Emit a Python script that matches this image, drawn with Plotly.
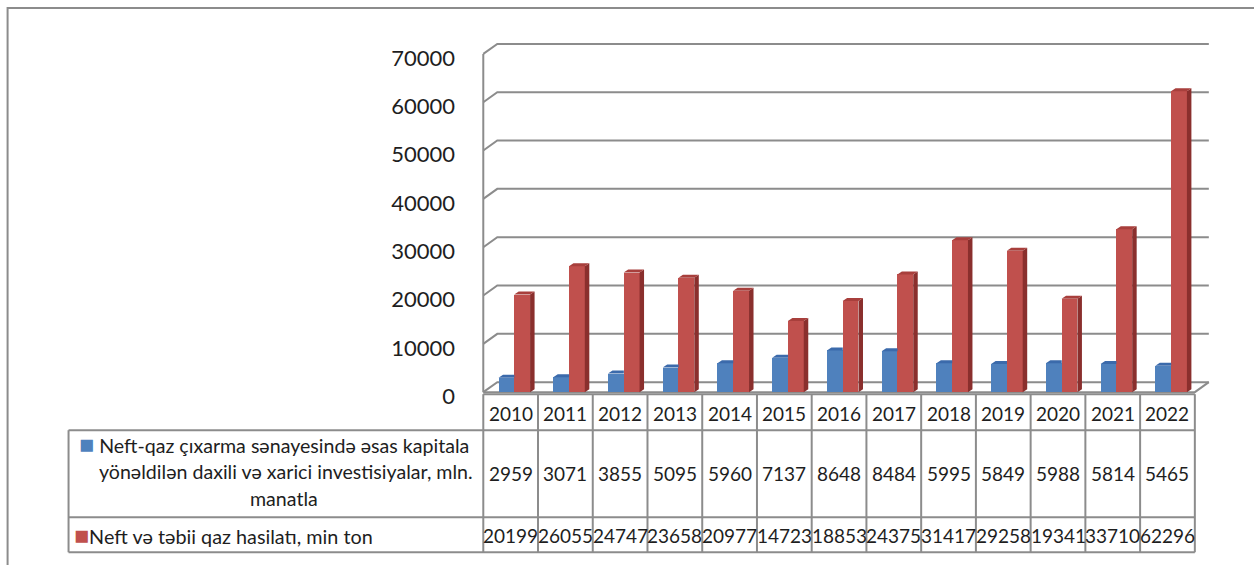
import plotly.graph_objects as go

# ---------------- data ----------------
years = ["2010", "2011", "2012", "2013", "2014", "2015", "2016",
         "2017", "2018", "2019", "2020", "2021", "2022"]
investment = [2959, 3071, 3855, 5095, 5960, 7137, 8648, 8484, 5995, 5849, 5988, 5814, 5465]
production = [20199, 26055, 24747, 23658, 20977, 14723, 18853, 24375, 31417, 29258, 19341, 33710, 62296]
series_names = [
    "Neft-qaz çıxarma sənayesində əsas kapitala",
    "yönəldilən daxili və xarici investisiyalar, mln.",
    "manatla",
]
series2_name = "Neft və təbii qaz hasilatı, min ton"
y_ticks = [0, 10000, 20000, 30000, 40000, 50000, 60000, 70000]

# ---------------- geometry / style ----------------
W_FIG, H_FIG = 1254, 565
X0, CW = 483.0, 54.77          # px of left edge of first category, px per category
Y0, K = 392.0, 0.004829        # px of value 0, px per unit
XR = [-0.56, 12.85]
YR = [-1000, 73500]

def xpx(u):
    return X0 + (u + 0.5) * CW

def ypx(v):
    return Y0 - v * K

L = xpx(XR[0]); R = xpx(XR[1])
T = ypx(YR[1]); B = ypx(YR[0])
PW, PH = R - L, B - T

def xp(px):
    return (px - L) / PW

def yp(px):
    return (B - px) / PH

BLUE, BLUE_TOP = "#4f81bd", "#3b6aab"
RED, RED_TOP, RED_SIDE = "#c0504d", "#a83f3c", "#8a2f2d"
GRID = "#8c8c8c"
TXT = "#1e1e1e"
FONT = "Lato"

n = len(years)
xs = list(range(n))
BW = 0.29
OFF_B, OFF_R = -0.077, 0.21
BDX = 4.5 / CW
BDY = 3.0 / K
WDX = 14.0 / CW
WDY = 10.0 / K

fig = go.Figure()

# front faces
fig.add_trace(go.Bar(x=[i + OFF_B for i in xs], y=investment, width=BW,
                     marker=dict(color=BLUE, line=dict(width=0)), name=series_names[0]))
fig.add_trace(go.Bar(x=[i + OFF_R for i in xs], y=production, width=BW,
                     marker=dict(color=RED, line=dict(width=0)), name=series2_name))

# 3D faces
def poly_trace(polys, color):
    px_, py_ = [], []
    for p in polys:
        for (a, b) in p:
            px_.append(a); py_.append(b)
        px_.append(p[0][0]); py_.append(p[0][1])
        px_.append(None); py_.append(None)
    return go.Scatter(x=px_, y=py_, fill="toself", fillcolor=color, mode="lines",
                      line=dict(width=0, color=color), hoverinfo="skip", showlegend=False)

blue_tops = []
for i, v in zip(xs, investment):
    xl = i + OFF_B - BW / 2; xr = i + OFF_B + BW / 2
    blue_tops.append([(xl, v), (xr, v), (xr, v + BDY), (xl + BDX, v + BDY)])
red_tops, red_sides = [], []
for i, v in zip(xs, production):
    xl = i + OFF_R - BW / 2; xr = i + OFF_R + BW / 2
    red_tops.append([(xl, v), (xr, v), (xr + BDX, v + BDY), (xl + BDX, v + BDY)])
    red_sides.append([(xr, 0), (xr + BDX, BDY), (xr + BDX, v + BDY), (xr, v)])
fig.add_trace(poly_trace(blue_tops, BLUE_TOP))
fig.add_trace(poly_trace(red_sides, RED_SIDE))
fig.add_trace(poly_trace(red_tops, RED_TOP))

shapes = []
# back-wall gridlines with slanted side-wall segments
for v in y_ticks:
    shapes.append(dict(type="path", xref="x", yref="y", layer="below",
                       path=f"M{-0.5},{v} L{-0.5 + WDX},{v + WDY} L{12.5 + WDX},{v + WDY}",
                       line=dict(color=GRID, width=2)))
# left wall front edge
shapes.append(dict(type="line", xref="x", yref="y", layer="below",
                   x0=-0.5, y0=0, x1=-0.5, y1=y_ticks[-1], line=dict(color=GRID, width=2)))
# floor front edge + right slant
shapes.append(dict(type="path", xref="x", yref="y", layer="below",
                   path=f"M{-0.5},0 L{12.5},0 L{12.5 + WDX},{WDY}",
                   line=dict(color=GRID, width=2)))

# ---------------- data table ----------------
col_edges = [xpx(j - 0.5) for j in range(n + 1)]
T_TOP, T_H1, T_R1, T_R2 = 394.0, 430.0, 517.0, 552.0
LEG_L = 68.0

def pline(x0, y0, x1, y1):
    shapes.append(dict(type="line", xref="paper", yref="paper",
                       x0=xp(x0), y0=yp(y0), x1=xp(x1), y1=yp(y1),
                       line=dict(color=GRID, width=2)))

pline(col_edges[0], T_TOP, col_edges[-1], T_TOP)
for yy in (T_H1, T_R1, T_R2):
    pline(LEG_L, yy, col_edges[-1], yy)
pline(LEG_L, T_H1, LEG_L, T_R2)
for xe in col_edges:
    pline(xe, T_TOP, xe, T_R2)

# outer frame
shapes.append(dict(type="rect", xref="paper", yref="paper",
                   x0=xp(7), y0=yp(8), x1=xp(1262), y1=yp(575),
                   line=dict(color=GRID, width=2)))

ann = []
def txt(x, y, s, size=19, xanchor="center"):
    ann.append(dict(xref="paper", yref="paper", x=xp(x), y=yp(y), text=s,
                    showarrow=False, xanchor=xanchor, yanchor="middle",
                    font=dict(family=FONT, size=size, color=TXT)))

for j in range(n):
    cx = (col_edges[j] + col_edges[j + 1]) / 2
    txt(cx, 413, years[j])
    txt(cx, 473, str(investment[j]))
    txt(cx, 535, str(production[j]))

SQ = "<span style='color:{};font-size:25px'>■</span>"
cell_c = (LEG_L + col_edges[0]) / 2
txt(cell_c - 2, 443, SQ.format(BLUE) + " " + series_names[0], size=19.6)
txt(cell_c + 10, 471, series_names[1], size=19.6)
txt(cell_c + 8, 498, series_names[2], size=19.6)
txt(71, 534, SQ.format(RED) + series2_name, size=19.8, xanchor="left")

fig.update_layout(
    width=W_FIG, height=H_FIG, autosize=False,
    margin=dict(l=L, r=W_FIG - R, t=T, b=H_FIG - B, autoexpand=False),
    paper_bgcolor="white", plot_bgcolor="white",
    barmode="overlay", bargap=0, showlegend=False,
    shapes=shapes, annotations=ann,
    xaxis=dict(range=XR, showgrid=False, zeroline=False, showticklabels=False,
               showline=False, ticks=""),
    yaxis=dict(range=YR, tickvals=y_ticks, ticktext=[str(v) for v in y_ticks],
               showgrid=False, zeroline=False, showline=False, ticks="",
               ticklabelstandoff=24, ticklabelshift=4,
               tickfont=dict(family=FONT, size=22, color=TXT)),
    font=dict(family=FONT),
)

fig.write_html("out.html", config={"displayModeBar": False},
               post_script="document.body.style.margin='0px';")
